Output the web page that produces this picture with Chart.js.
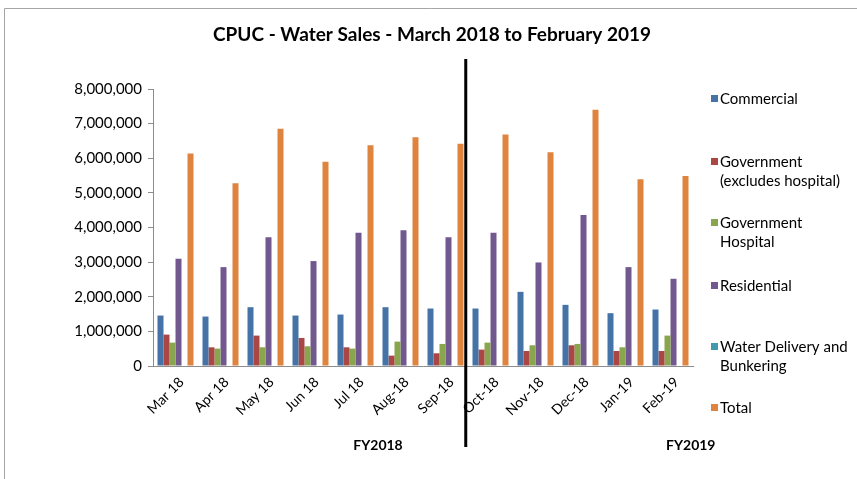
<!DOCTYPE html>
<html>
<head>
<meta charset="utf-8">
<script src="https://cdn.jsdelivr.net/npm/chart.js@4"></script>
<style>
  html, body { margin: 0; padding: 0; background: #fff; }
  #wrap { position: relative; width: 857px; height: 479px; }
</style>
</head>
<body>
<div id="wrap"><canvas id="waterChart" width="857" height="479"></canvas></div>
<script>
// months
const months = ['Mar 18', 'Apr 18', 'May 18', 'Jun 18', 'Jul 18', 'Aug-18', 'Sep-18',
                'Oct-18', 'Nov-18', 'Dec-18', 'Jan-19', 'Feb-19'];

// series values
const commercial = [1457000, 1428000, 1698000, 1457000, 1486000, 1698000, 1660000,
                    1660000, 2142000, 1766000, 1525000, 1631000];
const government = [907000, 540000, 878000, 810000, 540000, 299000, 367000,
                    473000, 434000, 598000, 434000, 434000];
const govHospital = [675000, 502000, 540000, 569000, 502000, 704000, 637000,
                     675000, 598000, 637000, 540000, 878000];
const residential = [3098000, 2856000, 3715000, 3030000, 3850000, 3918000, 3715000,
                     3850000, 2990000, 4362000, 2856000, 2519000];
const waterDelivery = [0, 0, 0, 0, 0, 0, 0, 0, 0, 0, 0, 0];
const total = [6137000, 5279000, 6850000, 5896000, 6379000, 6610000, 6417000,
               6687000, 6176000, 7400000, 5394000, 5490000];

const yTicks = [0, 1000000, 2000000, 3000000, 4000000, 5000000, 6000000, 7000000, 8000000];

// fiscal year groups
const fyLabels = ['FY2018', 'FY2019'];
const fyLabelAt = [4.5, 11.45];
const fySplitAt = 6.45;

// legend text, one array of lines per series
const legendLines = [
    ['Commercial'],
    ['Government', '(excludes hospital)'],
    ['Government', 'Hospital'],
    ['Residential'],
    ['Water Delivery and', 'Bunkering'],
    ['Total']
];
const legendTops = [99, 162, 223, 286, 347, 408];

const FONT = 'Lato, "Open Sans", sans-serif';

// title, legend, FY labels and divider line
const extrasPlugin = {
    id: 'extras',
    afterDraw(chart) {
        const c = chart.ctx;
        const x = chart.scales.x;
        c.save();

        // border of the chart box
        c.strokeStyle = '#a6a6a6';
        c.lineWidth = 1;
        c.beginPath();
        c.moveTo(4.5, 479);
        c.lineTo(4.5, 8.5);
        c.lineTo(857, 8.5);
        c.stroke();

        // title
        c.fillStyle = '#000';
        c.font = 'bold 19px ' + FONT;
        c.textAlign = 'center';
        c.textBaseline = 'middle';
        c.fillText('CPUC - Water Sales - March 2018 to February 2019', 432, 35);

        // divider between fiscal years
        const dx = x.getPixelForValue(fySplitAt);
        c.strokeStyle = '#000';
        c.lineWidth = 3;
        c.beginPath();
        c.moveTo(dx, 59);
        c.lineTo(dx, 447);
        c.stroke();

        // fiscal year labels
        c.font = 'bold 14px ' + FONT;
        c.fillStyle = '#000';
        fyLabels.forEach((lab, i) => {
            c.fillText(lab, x.getPixelForValue(fyLabelAt[i]), 445);
        });

        // legend
        c.font = '15px ' + FONT;
        c.textAlign = 'left';
        chart.data.datasets.forEach((ds, i) => {
            const top = legendTops[i];
            c.fillStyle = ds.backgroundColor;
            c.fillRect(711, top - 4, 7, 7);
            c.fillStyle = '#000';
            legendLines[i].forEach((line, j) => {
                c.fillText(line, 720, top + j * 19.5);
            });
        });
        c.restore();
    }
};

const ctx = document.getElementById('waterChart').getContext('2d');
const waterChart = new Chart(ctx, {
    type: 'bar',
    data: {
        labels: months,
        datasets: [
            { label: 'Commercial', data: commercial, backgroundColor: '#4572A7' },
            { label: 'Government (excludes hospital)', data: government, backgroundColor: '#AA4643' },
            { label: 'Government Hospital', data: govHospital, backgroundColor: '#89A54E' },
            { label: 'Residential', data: residential, backgroundColor: '#71588F' },
            { label: 'Water Delivery and Bunkering', data: waterDelivery, backgroundColor: '#4198AF' },
            { label: 'Total', data: total, backgroundColor: '#DF843E' }
        ]
    },
    options: {
        responsive: false,
        animation: false,
        layout: {
            padding: { left: 0, top: 89, right: 164, bottom: 0 }
        },
        datasets: {
            bar: {
                categoryPercentage: 0.8,
                barPercentage: 1.0,
                borderWidth: 0
            }
        },
        scales: {
            x: {
                grid: { display: false },
                border: { display: true, color: '#8c8c8c', width: 1 },
                ticks: {
                    color: '#000',
                    font: { family: FONT, size: 14 },
                    autoSkip: false,
                    minRotation: 45,
                    maxRotation: 45,
                    padding: 0,
                    labelOffset: 6
                },
                afterFit(scale) { scale.height = 113; }
            },
            y: {
                min: 0,
                max: 8000000,
                grid: {
                    drawOnChartArea: false,
                    drawTicks: true,
                    tickLength: 5,
                    color: '#8c8c8c'
                },
                border: { display: true, color: '#8c8c8c', width: 1 },
                afterBuildTicks(scale) {
                    scale.ticks = yTicks.map(v => ({ value: v }));
                },
                ticks: {
                    color: '#000',
                    font: { family: FONT, size: 15 },
                    padding: 6,
                    callback: v => v.toLocaleString('en-US')
                },
                afterFit(scale) { scale.width = 153; }
            }
        },
        plugins: {
            legend: { display: false },
            title: { display: false },
            tooltip: { enabled: false }
        }
    },
    plugins: [extrasPlugin]
});
</script>
</body>
</html>
